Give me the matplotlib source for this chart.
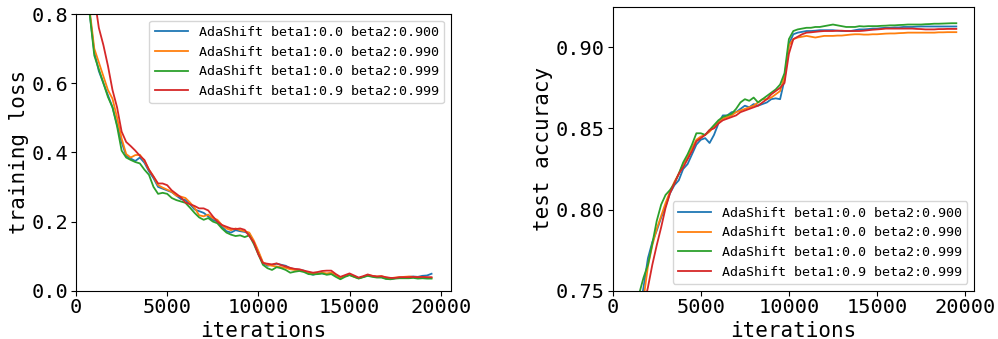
import numpy as np
import matplotlib
matplotlib.use("Agg")
import matplotlib.pyplot as plt

plt.rcParams['font.family'] = ['DejaVu Sans Mono', 'DejaVu Sans']

# iteration grid shared by all curves
iterations = np.arange(500, 19501, 250)

labels = [
    "AdaShift beta1:0.0 beta2:0.900",
    "AdaShift beta1:0.0 beta2:0.990",
    "AdaShift beta1:0.0 beta2:0.999",
    "AdaShift beta1:0.9 beta2:0.999",
]
colors = ["#1f77b4", "#ff7f0e", "#2ca02c", "#d62728"]

# training loss
loss_b090 = [0.95, 0.80, 0.69, 0.635, 0.60, 0.565, 0.53, 0.48, 0.43, 0.39,
             0.382, 0.375, 0.385, 0.37, 0.345, 0.325, 0.30, 0.295, 0.29, 0.285,
             0.275, 0.265, 0.262, 0.25, 0.235, 0.23, 0.225, 0.215, 0.205, 0.20,
             0.185, 0.172, 0.168, 0.175, 0.172, 0.17, 0.165, 0.14, 0.11, 0.08,
             0.072, 0.075, 0.078, 0.075, 0.072, 0.065, 0.062, 0.06, 0.058, 0.05,
             0.046, 0.05, 0.05, 0.048, 0.05, 0.045, 0.038, 0.042, 0.046, 0.042,
             0.036, 0.04, 0.044, 0.042, 0.04, 0.04, 0.035, 0.034, 0.036, 0.038,
             0.037, 0.04, 0.041, 0.04, 0.043, 0.044, 0.049]
loss_b099 = [0.95, 0.81, 0.70, 0.66, 0.62, 0.58, 0.555, 0.50, 0.44, 0.395,
             0.385, 0.392, 0.393, 0.375, 0.35, 0.33, 0.305, 0.298, 0.292, 0.286,
             0.275, 0.272, 0.268, 0.255, 0.24, 0.218, 0.215, 0.22, 0.21, 0.205,
             0.19, 0.18, 0.175, 0.18, 0.175, 0.172, 0.168, 0.145, 0.115, 0.082,
             0.075, 0.072, 0.07, 0.068, 0.066, 0.062, 0.06, 0.06, 0.056, 0.052,
             0.05, 0.048, 0.052, 0.05, 0.052, 0.046, 0.036, 0.042, 0.046, 0.04,
             0.036, 0.04, 0.045, 0.043, 0.041, 0.042, 0.038, 0.036, 0.038, 0.039,
             0.04, 0.041, 0.04, 0.038, 0.039, 0.038, 0.037]
loss_b0999 = [0.95, 0.80, 0.68, 0.64, 0.60, 0.56, 0.53, 0.475, 0.405, 0.385,
              0.378, 0.372, 0.368, 0.35, 0.335, 0.30, 0.28, 0.283, 0.28, 0.268,
              0.262, 0.258, 0.254, 0.24, 0.225, 0.212, 0.205, 0.21, 0.2, 0.195,
              0.18, 0.168, 0.162, 0.158, 0.16, 0.155, 0.16, 0.135, 0.105, 0.075,
              0.065, 0.06, 0.068, 0.065, 0.06, 0.052, 0.055, 0.057, 0.054, 0.048,
              0.047, 0.048, 0.05, 0.046, 0.048, 0.04, 0.033, 0.04, 0.045, 0.04,
              0.035, 0.039, 0.043, 0.04, 0.038, 0.038, 0.034, 0.033, 0.035, 0.036,
              0.036, 0.036, 0.037, 0.035, 0.036, 0.035, 0.035]
loss_b9999 = [1.10, 0.95, 0.85, 0.76, 0.71, 0.65, 0.58, 0.53, 0.46, 0.43,
              0.418, 0.405, 0.39, 0.378, 0.35, 0.33, 0.31, 0.31, 0.305, 0.29,
              0.28, 0.27, 0.255, 0.25, 0.245, 0.238, 0.238, 0.232, 0.215, 0.20,
              0.19, 0.185, 0.18, 0.178, 0.18, 0.176, 0.158, 0.14, 0.105, 0.08,
              0.078, 0.076, 0.079, 0.074, 0.07, 0.066, 0.063, 0.062, 0.058, 0.055,
              0.052, 0.054, 0.057, 0.058, 0.058, 0.048, 0.04, 0.045, 0.05, 0.044,
              0.038, 0.042, 0.047, 0.043, 0.041, 0.042, 0.039, 0.037, 0.037, 0.039,
              0.039, 0.039, 0.04, 0.039, 0.04, 0.039, 0.039]

# test accuracy
acc_b090 = [0.70, 0.71, 0.715, 0.725, 0.735, 0.752, 0.770, 0.780, 0.787, 0.795,
            0.802, 0.810, 0.815, 0.818, 0.825, 0.828, 0.834, 0.840, 0.843, 0.844,
            0.841, 0.846, 0.853, 0.858, 0.858, 0.860, 0.860, 0.862, 0.864, 0.863,
            0.865, 0.864, 0.865, 0.866, 0.868, 0.8685, 0.868, 0.880, 0.902, 0.908,
            0.909, 0.9095, 0.910, 0.910, 0.9102, 0.9105, 0.9105, 0.9105, 0.9105, 0.9102,
            0.910, 0.910, 0.910, 0.9105, 0.911, 0.911, 0.9112, 0.9115, 0.9115, 0.9118,
            0.912, 0.912, 0.9122, 0.9122, 0.9125, 0.9125, 0.9125, 0.9127, 0.9128, 0.9128,
            0.9128, 0.9128, 0.9128, 0.9128, 0.9128, 0.9128, 0.9128]
acc_b099 = [0.69, 0.70, 0.71, 0.72, 0.73, 0.745, 0.765, 0.778, 0.788, 0.796,
            0.804, 0.811, 0.817, 0.822, 0.828, 0.832, 0.838, 0.843, 0.845, 0.846,
            0.848, 0.851, 0.854, 0.856, 0.857, 0.858, 0.860, 0.861, 0.862, 0.863,
            0.864, 0.866, 0.868, 0.868, 0.869, 0.871, 0.873, 0.882, 0.901, 0.905,
            0.906, 0.9065, 0.907, 0.9065, 0.906, 0.9065, 0.907, 0.907, 0.907, 0.9072,
            0.9072, 0.9075, 0.9078, 0.908, 0.908, 0.9078, 0.9078, 0.908, 0.908, 0.9082,
            0.9084, 0.9085, 0.9085, 0.9087, 0.9088, 0.909, 0.909, 0.909, 0.909, 0.909,
            0.909, 0.909, 0.9092, 0.9092, 0.9093, 0.9093, 0.9093]
acc_b0999 = [0.70, 0.71, 0.72, 0.735, 0.748, 0.758, 0.766, 0.779, 0.793, 0.803,
             0.809, 0.812, 0.816, 0.822, 0.829, 0.834, 0.840, 0.847, 0.847, 0.846,
             0.849, 0.852, 0.855, 0.857, 0.858, 0.859, 0.862, 0.866, 0.868, 0.867,
             0.869, 0.866, 0.868, 0.870, 0.872, 0.874, 0.877, 0.884, 0.905, 0.910,
             0.911, 0.9115, 0.912, 0.912, 0.9125, 0.9125, 0.913, 0.9135, 0.914, 0.9135,
             0.913, 0.9125, 0.9125, 0.9125, 0.913, 0.9128, 0.913, 0.913, 0.913, 0.9132,
             0.9133, 0.9135, 0.9135, 0.9137, 0.9138, 0.914, 0.914, 0.914, 0.914, 0.9142,
             0.9143, 0.9145, 0.9145, 0.9146, 0.9147, 0.9148, 0.9148]
acc_b9999 = [0.66, 0.68, 0.69, 0.70, 0.715, 0.74, 0.752, 0.766, 0.778, 0.789,
             0.801, 0.810, 0.816, 0.822, 0.826, 0.831, 0.836, 0.842, 0.844, 0.846,
             0.849, 0.850, 0.853, 0.855, 0.856, 0.857, 0.858, 0.860, 0.861, 0.862,
             0.863, 0.864, 0.866, 0.868, 0.871, 0.873, 0.875, 0.878, 0.896, 0.905,
             0.9065, 0.908, 0.909, 0.9092, 0.9095, 0.9098, 0.910, 0.910, 0.910, 0.9102,
             0.9102, 0.910, 0.910, 0.910, 0.910, 0.9102, 0.9105, 0.9108, 0.911, 0.9112,
             0.9115, 0.9115, 0.9115, 0.9115, 0.9115, 0.9115, 0.9115, 0.9113, 0.9112, 0.911,
             0.911, 0.911, 0.9112, 0.9112, 0.9113, 0.9113, 0.9113]

loss_series = [loss_b090, loss_b099, loss_b0999, loss_b9999]
acc_series = [acc_b090, acc_b099, acc_b0999, acc_b9999]

fig = plt.figure(figsize=(9.98, 3.39), dpi=100)
ax1 = fig.add_axes([0.0762, 0.1425, 0.3754, 0.8162])
ax2 = fig.add_axes([0.6139, 0.1425, 0.3620, 0.8378])

for vals, lab, col in zip(loss_series, labels, colors):
    ax1.plot(iterations, vals, color=col, lw=1.3, label=lab)
for vals, lab, col in zip(acc_series, labels, colors):
    ax2.plot(iterations, vals, color=col, lw=1.3, label=lab)

ax1.set_xlim(0, 20550)
ax1.set_ylim(0.0, 0.8)
ax1.set_yticks([0.0, 0.2, 0.4, 0.6, 0.8])
ax1.set_ylabel("training loss", fontsize=15, labelpad=2)
ax1.legend(loc="upper right", fontsize=9.6, handlelength=2.5)

ax2.set_xlim(0, 20500)
ax2.set_ylim(0.75, 0.925)
ax2.set_yticks([0.75, 0.80, 0.85, 0.90])
ax2.set_ylabel("test accuracy", fontsize=15, labelpad=2)
ax2.legend(loc="lower right", fontsize=9.6, handlelength=2.5)

for ax in (ax1, ax2):
    ax.set_xticks([0, 5000, 10000, 15000, 20000])
    ax.set_xlabel("iterations", fontsize=15, labelpad=3)
    ax.tick_params(labelsize=14.6, pad=2)

fig.savefig("out.png", dpi=100)
